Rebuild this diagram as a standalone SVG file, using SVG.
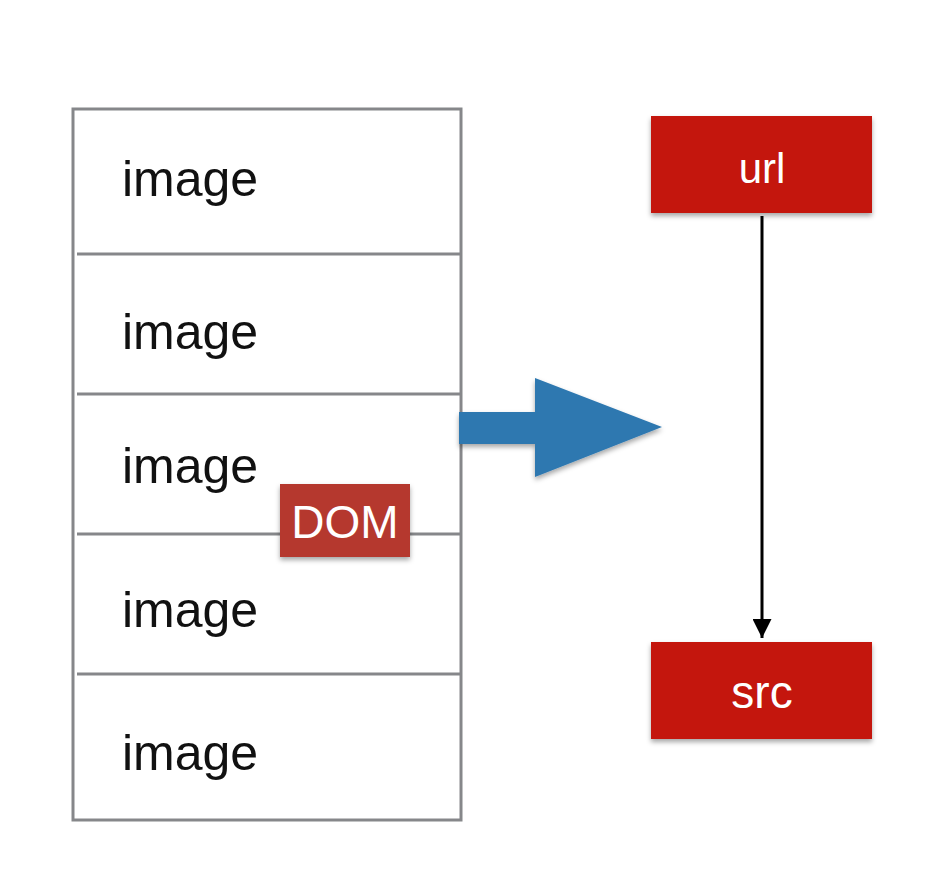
<svg xmlns="http://www.w3.org/2000/svg" width="950" height="876" viewBox="0 0 950 876">
<defs>
<filter id="sh" x="-10%" y="-10%" width="130%" height="140%"><feDropShadow dx="0" dy="3" stdDeviation="2.5" flood-color="#000" flood-opacity="0.35"/></filter>
<marker id="ah" markerWidth="19" markerHeight="19" refX="19" refY="9.5" orient="auto" markerUnits="userSpaceOnUse" viewBox="0 0 19 19"><path d="M0,0 L19,9.5 L0,19 z" fill="#000"/></marker>
<style>
.lbl{font-family:"Liberation Sans",Arial,sans-serif;font-size:50px;fill:#111}
.w{font-family:"Liberation Sans",Arial,sans-serif;fill:#fff;text-anchor:middle}
.grid{stroke:#86878a;stroke-width:3;fill:none}
</style>
</defs>
<rect width="950" height="876" fill="#fff"/>
<g id="list">
<rect class="grid" x="73" y="109" width="388" height="711"/>
<line class="grid" x1="77" y1="254" x2="461" y2="254"/>
<line class="grid" x1="77" y1="394" x2="461" y2="394"/>
<line class="grid" x1="77" y1="534" x2="461" y2="534"/>
<line class="grid" x1="77" y1="674" x2="461" y2="674"/>
<text class="lbl" x="122" y="196">image</text>
<text class="lbl" x="122" y="349">image</text>
<text class="lbl" x="122" y="483">image</text>
<text class="lbl" x="122" y="627">image</text>
<text class="lbl" x="122" y="770">image</text>
</g>
<g id="dom">
<rect x="280" y="484" width="130" height="73" fill="#b5392d" filter="url(#sh)"/>
<text class="w" x="345" y="538" font-size="46">DOM</text>
</g>
<g id="bigarrow">
<path d="M459,412 L535,412 L535,378 L662,427 L535,477 L535,444 L459,444 z" fill="#2e78b0" filter="url(#sh)"/>
</g>
<g id="url">
<rect x="651" y="116" width="221" height="97" fill="#c4160c" filter="url(#sh)"/>
<text class="w" x="762" y="183" font-size="42">url</text>
</g>
<g id="src">
<rect x="651" y="642" width="221" height="97" fill="#c4160c" filter="url(#sh)"/>
<text class="w" x="762" y="708" font-size="46">src</text>
</g>
<g id="connectors">
<line x1="762" y1="216" x2="762" y2="638" stroke="#000" stroke-width="3" marker-end="url(#ah)"/>
</g>
</svg>
